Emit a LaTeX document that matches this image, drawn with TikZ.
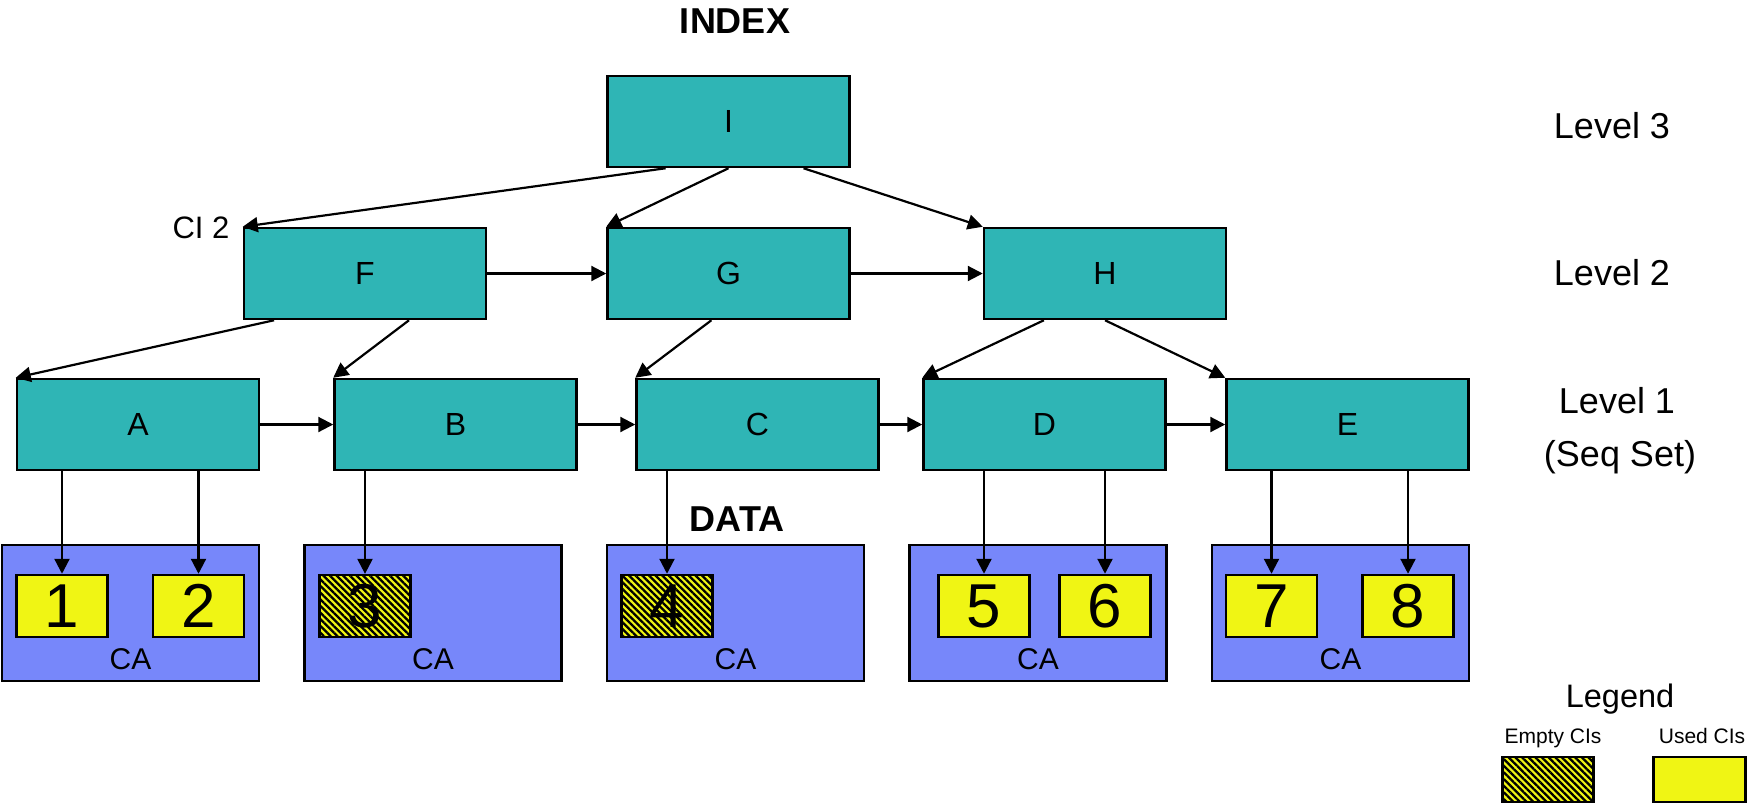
\documentclass[tikz,border=0pt]{standalone}
\usepackage{fontspec}
\setmainfont{Liberation Sans}
\usetikzlibrary{arrows.meta,patterns.meta,calc}

\definecolor{idxteal}{HTML}{2FB5B5}
\definecolor{cablue}{HTML}{7787FA}
\definecolor{ciyellow}{HTML}{F0F514}

\tikzset{
  idx/.style={draw=black, line width=2.5pt, fill=idxteal,
    minimum width=242pt, minimum height=91pt, inner sep=0pt,
    font=\fontsize{32}{38}\selectfont},
  cabox/.style={draw=black, line width=2.5pt, fill=cablue,
    minimum width=257pt, minimum height=136pt, inner sep=0pt},
  cibase/.style={draw=black, line width=2.5pt,
    minimum width=91pt, minimum height=62pt, inner sep=0pt,
    font=\fontsize{62}{70}\selectfont},
  usedci/.style={cibase, fill=ciyellow},
  emptyci/.style={cibase, preaction={fill=ciyellow},
    pattern={Lines[angle=-45,distance=4.7pt,line width=2.3pt]},
    pattern color=black},
  calabel/.style={anchor=base, inner sep=0pt, font=\fontsize{30}{36}\selectfont},
  title/.style={anchor=base, inner sep=0pt, font=\fontsize{36}{42}\selectfont\bfseries},
  level/.style={anchor=base, inner sep=0pt, font=\fontsize{36}{42}\selectfont},
  link/.style={line width=2.2pt, -{Triangle[length=15pt,width=15pt]}},
}

\begin{document}
\begin{tikzpicture}[x=1pt,y=-1pt]
\useasboundingbox (0,0) rectangle (1753,804);

% index levels
\node[idx] (I) at (728.5,121.5) {I};
\node[idx] (F) at (365,273.5) {F};
\node[idx] (G) at (728.5,273.5) {G};
\node[idx] (H) at (1105,273.5) {H};
\node[idx] (A) at (138,424.5) {A};
\node[idx] (B) at (455.5,424.5) {B};
\node[idx] (C) at (757.5,424.5) {C};
\node[idx] (D) at (1044.5,424.5) {D};
\node[idx] (E) at (1347.5,424.5) {E};

% control areas
\node[cabox] (ca1) at (130.5,613) {};
\node[cabox] (ca2) at (433,613) {};
\node[cabox] (ca3) at (735.5,613) {};
\node[cabox] (ca4) at (1038,613) {};
\node[cabox] (ca5) at (1340.5,613) {};
\foreach \n in {ca1,ca2,ca3,ca4,ca5}
  \node[calabel] (\n-lbl) at ($(\n.south)+(0,-13)$) {CA};

% control intervals
\node[usedci]  (c1) at (62,606) {1};
\node[usedci]  (c2) at (198.5,606) {2};
\node[emptyci] (c3) at (365,606) {3};
\node[emptyci] (c4) at (667,606) {4};
\node[usedci]  (c5) at (984,606) {5};
\node[usedci]  (c6) at (1105,606) {6};
\node[usedci]  (c7) at (1271.5,606) {7};
\node[usedci]  (c8) at (1408,606) {8};

% tree pointers
\draw[link] ($(I.south west)!0.243!(I.south east)$) -- (F.north west);
\draw[link] (I.south) -- (G.north west);
\draw[link] ($(I.south west)!0.807!(I.south east)$) -- (H.north west);
\draw[link] ($(F.south west)!0.128!(F.south east)$) -- (A.north west);
\draw[link] ($(F.south west)!0.68!(F.south east)$) -- (B.north west);
\draw[link] ($(G.south west)!0.43!(G.south east)$) -- (C.north west);
\draw[link] ($(H.south west)!0.25!(H.south east)$) -- (D.north west);
\draw[link] (H.south) -- (E.north west);

% horizontal chains
\draw[link] (F.east) -- (G.west);
\draw[link] (G.east) -- (H.west);
\draw[link] (A.east) -- (B.west);
\draw[link] (B.east) -- (C.west);
\draw[link] (C.east) -- (D.west);
\draw[link] (D.east) -- (E.west);

% sequence set to data
\draw[link] (A.south -| c1.north) -- (c1.north);
\draw[link] (A.south -| c2.north) -- (c2.north);
\draw[link] (B.south -| c3.north) -- (c3.north);
\draw[link] (C.south -| c4.north) -- (c4.north);
\draw[link] (D.south -| c5.north) -- (c5.north);
\draw[link] (D.south -| c6.north) -- (c6.north);
\draw[link] (E.south -| c7.north) -- (c7.north);
\draw[link] (E.south -| c8.north) -- (c8.north);

% labels
\node[title] (index) at (735,33) {INDEX};
\node[title] (data) at (737,531) {DATA};
\node[anchor=base, inner sep=0pt, font=\fontsize{31}{36}\selectfont] (ci2) at (201,238) {CI 2};
\node[level] (lv3) at (1612,138) {Level 3};
\node[level] (lv2) at (1612,285) {Level 2};
\node[level] (lv1) at (1617,413) {Level 1};
\node[level] (seq) at (1620,466) {(Seq Set)};

% legend
\node[anchor=base, inner sep=0pt, font=\fontsize{32.5}{38}\selectfont] (leg) at (1620,707) {Legend};
\node[anchor=base, inner sep=0pt, font=\fontsize{21}{25}\selectfont] (legE) at (1553,743) {Empty CIs};
\node[anchor=base, inner sep=0pt, font=\fontsize{21}{25}\selectfont] (legU) at (1702,743) {Used CIs};
\node[emptyci, minimum width=91pt, minimum height=45pt] (legEbox) at (1548,779.5) {};
\node[usedci, minimum width=92pt, minimum height=45pt] (legUbox) at (1699.5,779.5) {};
\end{tikzpicture}
\end{document}
